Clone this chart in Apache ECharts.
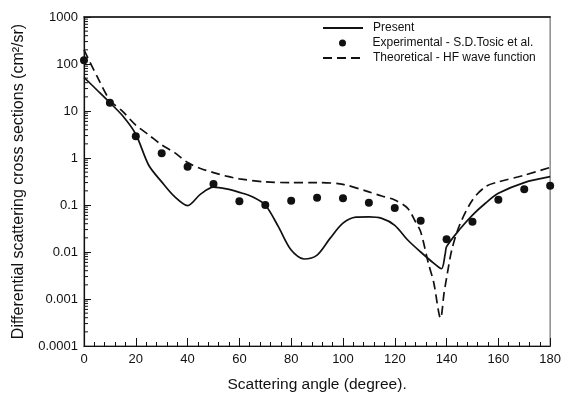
<!DOCTYPE html>
<html>
<head>
<meta charset="utf-8">
<script src="https://cdn.jsdelivr.net/npm/echarts@6/dist/echarts.min.js"></script>
<style>html,body{margin:0;padding:0;background:#fff;}#c{width:564px;height:399px;}</style>
</head>
<body>
<div id="c"></div>
<script>
// ---- data ----
const expX = [0,10,20,30,40,50,60,70,80,90,100,110,120,130,140,150,160,170,180];
const expY = [120,15,2.9,1.26,0.65,0.28,0.12,0.10,0.123,0.143,0.139,0.112,0.086,0.046,0.0186,0.044,0.13,0.216,0.258];

const presentX = [0,5,10,15,20,25,30,35,40,45,50,55,60,65,70,75,80,85,90,95,100,105,110,115,120,125,130,135,138,139.5,140,145,150,155,160,170,180];
const presentY = [52,28,15,7.8,3.2,0.7,0.31,0.15,0.097,0.17,0.24,0.22,0.186,0.15,0.1,0.035,0.011,0.0071,0.0086,0.0195,0.041,0.055,0.056,0.052,0.037,0.018,0.010,0.0058,0.0044,0.0093,0.013,0.030,0.061,0.109,0.177,0.30,0.40];

const theoX = [0,5,10,15,20,25,30,35,40,45,50,55,60,70,80,90,100,110,115,120,125,128,130,133,135,137.7,139,140,142,145,150,155,160,170,180];
const theoY = [200,55,17,9.7,5.0,3.1,1.9,1.3,0.8,0.6,0.49,0.41,0.36,0.31,0.30,0.30,0.275,0.19,0.155,0.128,0.085,0.044,0.027,0.0057,0.0023,0.00039,0.0013,0.0028,0.011,0.037,0.128,0.245,0.31,0.43,0.63];

const seriesNames = ['Present','Experimental - S.D.Tosic et al.','Theoretical - HF wave function'];
const yTickLabels = ['0.0001','0.001','0.01','0.1','1','10','100','1000'];
const xName = 'Scattering angle (degree).';
const yName = 'Differential scattering cross sections (cm\u00B2/sr)';

// log minor tick positions (axis decoration)
const yMinorTicks = [];
for (let e = -4; e <= 2; e++) for (let m = 2; m <= 9; m++) yMinorTicks.push([0, m * Math.pow(10, e)]);

const zip = (a, b) => a.map((v, i) => [v, b[i]]);
const FONT = 'Liberation Sans, Arial, sans-serif';
const INK = '#111';
const legendText = {fontFamily: FONT, fontSize: 12, color: INK, padding: [0,0,0,5]};

const chart = echarts.init(document.getElementById('c'), null, {renderer: 'canvas'});
chart.setOption({
  animation: false,
  backgroundColor: '#fff',
  grid: {left: 84, right: 10, top: 17, bottom: 53, show: true, borderColor: '#8c8c8c', borderWidth: 1.5, containLabel: false},
  legend: [
    {data: [{name: seriesNames[0], itemStyle: {opacity: 0}}], left: 322, top: 22, padding: 0, itemWidth: 40, itemHeight: 14,
     textStyle: legendText, selectedMode: false},
    {data: [seriesNames[1]], left: 339, top: 37, padding: 0, itemWidth: 40, itemHeight: 7,
     itemStyle: {opacity: 1}, textStyle: legendText, selectedMode: false},
    {data: [{name: seriesNames[2], itemStyle: {opacity: 0}}], left: 322, top: 52, padding: 0, itemWidth: 40, itemHeight: 14,
     textStyle: legendText, selectedMode: false}
  ],
  xAxis: [{
    type: 'value', min: 0, max: 180, interval: 20,
    name: xName, nameLocation: 'middle', nameGap: 31,
    nameTextStyle: {fontFamily: FONT, fontSize: 15.5, color: INK},
    axisLine: {show: true, lineStyle: {color: INK, width: 1.2}},
    axisTick: {show: true, inside: true, length: 8, lineStyle: {color: INK, width: 1}},
    minorTick: {show: true, splitNumber: 5, length: 4, lineStyle: {color: INK, width: 1}},
    axisLabel: {fontFamily: FONT, fontSize: 13, color: INK, margin: 7},
    splitLine: {show: false}
  }, {
    type: 'value', min: 0, max: 180, position: 'top',
    axisLine: {show: true, lineStyle: {color: INK, width: 1.5}},
    axisTick: {show: false}, axisLabel: {show: false}, splitLine: {show: false}
  }],
  yAxis: {
    type: 'log', logBase: 10, min: 0.0001, max: 1000,
    name: yName, nameLocation: 'middle', nameGap: 57,
    nameTextStyle: {fontFamily: FONT, fontSize: 16, color: INK},
    axisLine: {show: true, lineStyle: {color: INK, width: 1.2}},
    axisTick: {show: true, inside: true, length: 7, lineStyle: {color: INK, width: 1}},
    axisLabel: {fontFamily: FONT, fontSize: 13, color: INK, margin: 6,
      formatter: v => yTickLabels[Math.round(Math.log10(v)) + 4]},
    splitLine: {show: false}
  },
  series: [
    {name: seriesNames[0], type: 'line', data: zip(presentX, presentY), smooth: 0.3,
     showSymbol: false, symbol: 'none', lineStyle: {color: INK, width: 1.7}, itemStyle: {color: INK}, z: 3},
    {name: seriesNames[1], type: 'scatter', data: zip(expX, expY), symbol: 'circle', symbolSize: 8,
     itemStyle: {color: INK, opacity: 1}, z: 4},
    {name: seriesNames[2], type: 'line', data: zip(theoX, theoY), smooth: 0.3,
     showSymbol: false, symbol: 'none', lineStyle: {color: INK, width: 1.7, type: [9, 5]}, itemStyle: {color: INK}, z: 3},
    {name: 'minorTicksY', type: 'custom', data: yMinorTicks, silent: true, clip: false,
     renderItem: (params, api) => {
       const p = api.coord([0, api.value(1)]);
       return {type: 'line', shape: {x1: p[0], y1: p[1], x2: p[0] + 4, y2: p[1]},
               style: {stroke: INK, lineWidth: 1}};
     }}
  ]
});
</script>
</body>
</html>
